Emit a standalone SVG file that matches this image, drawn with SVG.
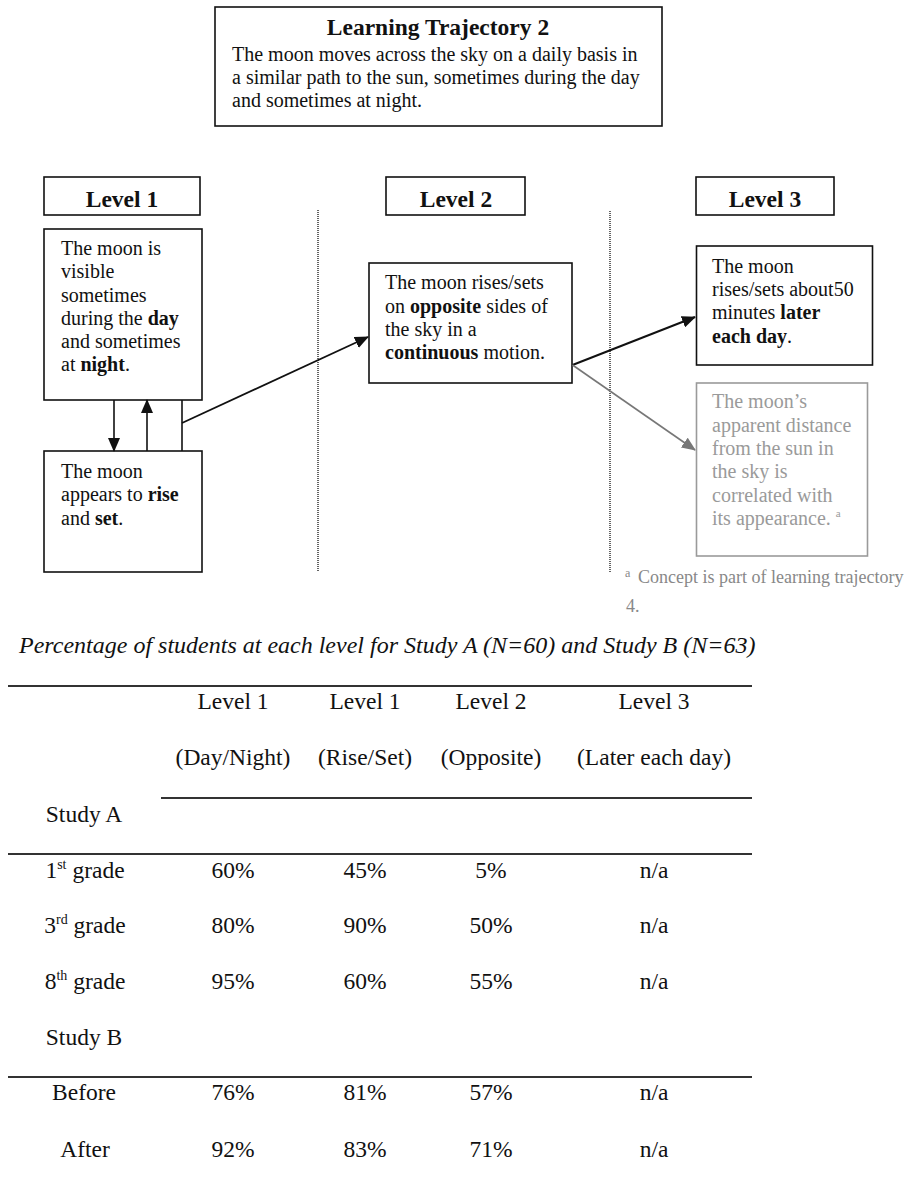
<svg xmlns="http://www.w3.org/2000/svg" width="908" height="1188" viewBox="0 0 908 1188">
<style>
text{font-family:"Liberation Serif","Times New Roman",serif;fill:#111}
.t{font-size:20px}
.lab{font-size:23.5px;font-weight:bold;text-anchor:middle}
.b{font-weight:bold}
.g{fill:#9a9a9a}
.box{fill:#fff;stroke:#111;stroke-width:1.6}
.gbox{fill:#fff;stroke:#9a9a9a;stroke-width:1.6}
.dot{stroke:#222;stroke-width:1.4;stroke-dasharray:1 1}
.tb{font-size:23.5px;text-anchor:middle}
.rule{stroke:#333;stroke-width:2}
</style>
<defs>
<marker id="ah" markerUnits="userSpaceOnUse" markerWidth="14" markerHeight="12" refX="13" refY="6" orient="auto"><path d="M0,0 L14,6 L0,12 z" fill="#111"/></marker>
<marker id="ahg" markerUnits="userSpaceOnUse" markerWidth="14" markerHeight="12" refX="13" refY="6" orient="auto"><path d="M0,0 L14,6 L0,12 z" fill="#777"/></marker>
</defs>
<rect width="908" height="1188" fill="#fff"/>

<g id="title">
<rect x="215" y="7" width="447" height="119" class="box" stroke-width="2"/>
<text x="438" y="35" class="lab">Learning Trajectory 2</text>
<text x="232" y="61" class="t">The moon moves across the sky on a daily basis in</text>
<text x="232" y="84" class="t">a similar path to the sun, sometimes during the day</text>
<text x="232" y="107" class="t">and sometimes at night.</text>
</g>

<g id="level1-label"><rect x="44" y="177" width="156" height="38" class="box" stroke-width="2"/><text x="122" y="207" class="lab">Level 1</text></g>
<g id="level2-label"><rect x="386" y="177" width="139" height="38" class="box" stroke-width="2"/><text x="456" y="207" class="lab">Level 2</text></g>
<g id="level3-label"><rect x="696" y="177" width="138" height="38" class="box" stroke-width="2"/><text x="765" y="207" class="lab">Level 3</text></g>

<g id="separators">
<line x1="318" y1="210" x2="318" y2="572" class="dot"/>
<line x1="610" y1="211" x2="610" y2="572" class="dot"/>
</g>

<g id="daynight">
<rect x="44" y="229" width="158" height="171" class="box"/>
<text x="61" y="255" class="t">The moon is</text>
<text x="61" y="278" class="t">visible</text>
<text x="61" y="302" class="t">sometimes</text>
<text x="61" y="325" class="t">during the <tspan class="b">day</tspan></text>
<text x="61" y="348" class="t">and sometimes</text>
<text x="61" y="371" class="t">at <tspan class="b">night</tspan>.</text>
</g>

<g id="riseset">
<rect x="44" y="451" width="158" height="121" class="box"/>
<text x="61" y="478" class="t">The moon</text>
<text x="61" y="501" class="t">appears to <tspan class="b">rise</tspan></text>
<text x="61" y="525" class="t">and <tspan class="b">set</tspan>.</text>
</g>

<g id="opposite">
<rect x="369" y="263" width="203" height="120" class="box"/>
<text x="385" y="289" class="t">The moon rises/sets</text>
<text x="385" y="313" class="t">on <tspan class="b">opposite</tspan> sides of</text>
<text x="385" y="336" class="t">the sky in a</text>
<text x="385" y="359" class="t"><tspan class="b">continuous</tspan> motion.</text>
</g>

<g id="later">
<rect x="696.5" y="246" width="176" height="119" class="box" stroke-width="2.4"/>
<text x="712" y="273" class="t">The moon</text>
<text x="712" y="296" class="t">rises/sets about50</text>
<text x="712" y="319" class="t">minutes <tspan class="b">later</tspan></text>
<text x="712" y="343" class="t"><tspan class="b">each day</tspan>.</text>
</g>

<g id="distance">
<rect x="696.5" y="383" width="171" height="173" class="gbox"/>
<text x="712" y="408" class="t g">The moon’s</text>
<text x="712" y="432" class="t g">apparent distance</text>
<text x="712" y="455" class="t g">from the sun in</text>
<text x="712" y="478" class="t g">the sky is</text>
<text x="712" y="502" class="t g">correlated with</text>
<text x="712" y="525" class="t g">its appearance. <tspan font-size="11" dy="-8">a</tspan></text>
</g>

<g id="connectors" fill="none">
<line x1="114" y1="400" x2="114" y2="451" stroke="#111" stroke-width="1.6" marker-end="url(#ah)"/>
<line x1="147" y1="451" x2="147" y2="400" stroke="#111" stroke-width="1.6" marker-end="url(#ah)"/>
<line x1="182" y1="400" x2="182" y2="451" stroke="#111" stroke-width="1.6"/>
<line x1="182" y1="423" x2="368" y2="337" stroke="#111" stroke-width="1.8" marker-end="url(#ah)"/>
<line x1="572.5" y1="365" x2="695" y2="317" stroke="#111" stroke-width="2" marker-end="url(#ah)"/>
<line x1="572.5" y1="365" x2="695" y2="450" stroke="#777" stroke-width="1.6" marker-end="url(#ahg)"/>
</g>

<g id="footnote">
<text x="625" y="577" font-size="12" class="g" style="fill:#888">a</text>
<text x="638" y="583" font-size="18" style="fill:#888">Concept is part of learning trajectory</text>
<text x="626" y="612" font-size="18" style="fill:#888">4.</text>
</g>

<g id="table">
<text x="19" y="653" font-size="24" font-style="italic">Percentage of students at each level for Study A (N=60) and Study B (N=63)</text>
<line x1="8" y1="686" x2="752" y2="686" class="rule"/>
<line x1="161" y1="798" x2="752" y2="798" class="rule"/>
<line x1="8" y1="854" x2="752" y2="854" class="rule"/>
<line x1="8" y1="1077" x2="752" y2="1077" class="rule"/>

<text x="233" y="709" class="tb">Level 1</text>
<text x="365" y="709" class="tb">Level 1</text>
<text x="491" y="709" class="tb">Level 2</text>
<text x="654" y="709" class="tb">Level 3</text>
<text x="233" y="765" class="tb">(Day/Night)</text>
<text x="365" y="765" class="tb">(Rise/Set)</text>
<text x="491" y="765" class="tb">(Opposite)</text>
<text x="654" y="765" class="tb">(Later each day)</text>

<text x="84" y="822" class="tb">Study A</text>
<text x="85" y="878" class="tb">1<tspan font-size="14" dy="-9">st</tspan><tspan dy="9"> grade</tspan></text>
<text x="233" y="878" class="tb">60%</text><text x="365" y="878" class="tb">45%</text><text x="491" y="878" class="tb">5%</text><text x="654" y="878" class="tb">n/a</text>
<text x="85" y="933" class="tb">3<tspan font-size="14" dy="-9">rd</tspan><tspan dy="9"> grade</tspan></text>
<text x="233" y="933" class="tb">80%</text><text x="365" y="933" class="tb">90%</text><text x="491" y="933" class="tb">50%</text><text x="654" y="933" class="tb">n/a</text>
<text x="85" y="989" class="tb">8<tspan font-size="14" dy="-9">th</tspan><tspan dy="9"> grade</tspan></text>
<text x="233" y="989" class="tb">95%</text><text x="365" y="989" class="tb">60%</text><text x="491" y="989" class="tb">55%</text><text x="654" y="989" class="tb">n/a</text>
<text x="84" y="1045" class="tb">Study B</text>
<text x="84" y="1100" class="tb">Before</text>
<text x="233" y="1100" class="tb">76%</text><text x="365" y="1100" class="tb">81%</text><text x="491" y="1100" class="tb">57%</text><text x="654" y="1100" class="tb">n/a</text>
<text x="85" y="1157" class="tb">After</text>
<text x="233" y="1157" class="tb">92%</text><text x="365" y="1157" class="tb">83%</text><text x="491" y="1157" class="tb">71%</text><text x="654" y="1157" class="tb">n/a</text>
</g>
</svg>
